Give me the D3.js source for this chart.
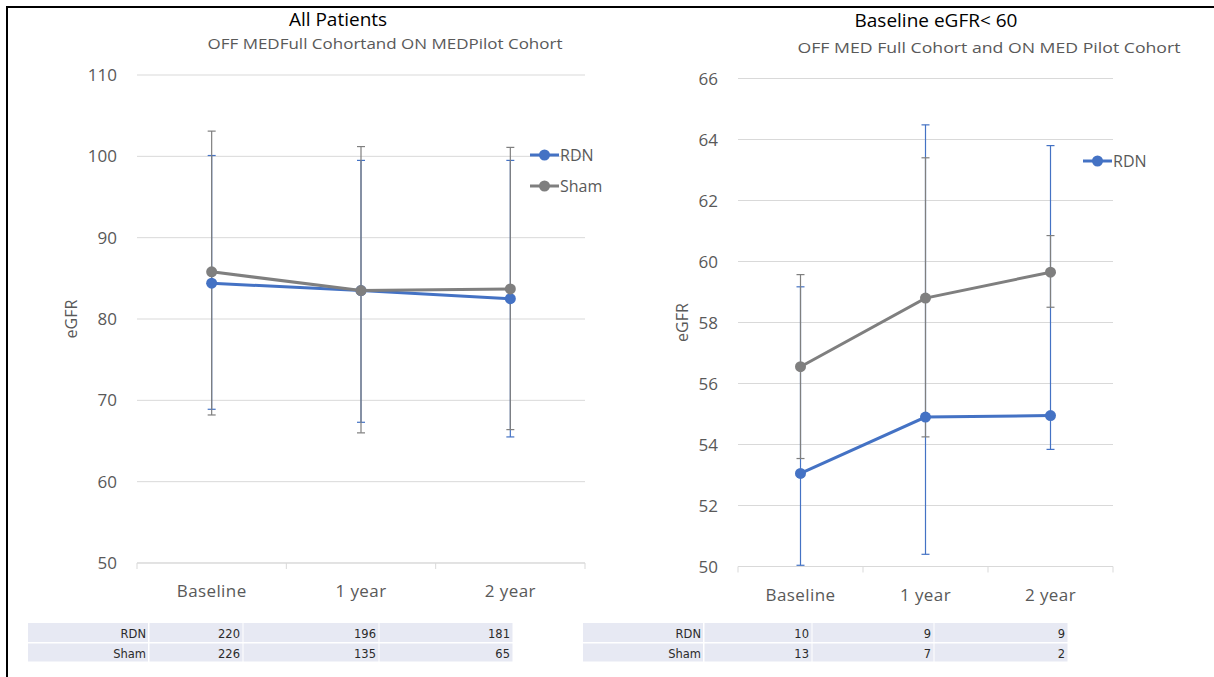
<!DOCTYPE html>
<html>
<head>
<meta charset="utf-8">
<script src="https://cdnjs.cloudflare.com/ajax/libs/d3/7.8.5/d3.min.js"></script>
<style>
  body { margin: 0; background: #fff; }
  text { font-family: "Open Sans", sans-serif; }
</style>
</head>
<body>
<div class="container"></div>
<script>
var w = 1214;
var h = 677;

// data
var categories = ["Baseline", "1 year", "2 year"];
var seriesNames = ["RDN", "Sham"];

// left chart: all patients
var allRdn = [84.4, 83.5, 82.5];
var allRdnHi = [100.1, 99.5, 99.5];
var allRdnLo = [68.9, 67.3, 65.5];
var allSham = [85.8, 83.5, 83.7];
var allShamHi = [103.1, 101.2, 101.1];
var allShamLo = [68.2, 66.0, 66.4];
var allTicks = [50, 60, 70, 80, 90, 100, 110];
var allN = [[220, 196, 181], [226, 135, 65]];

// right chart: baseline eGFR < 60
var lowRdn = [53.05, 54.9, 54.95];
var lowRdnHi = [59.17, 64.48, 63.8];
var lowRdnLo = [50.04, 50.4, 53.84];
var lowSham = [56.55, 58.8, 59.65];
var lowShamHi = [59.57, 63.4, 60.85];
var lowShamLo = [53.54, 54.25, 58.5];
var lowTicks = [50, 52, 54, 56, 58, 60, 62, 64, 66];
var lowN = [[10, 9, 9], [13, 7, 2]];

var blue = "#4472C4";
var grey = "#7F7F7F";
var textGrey = "#595959";

var svg = d3.select('.container')
  .append('svg')
  .attr('width', w)
  .attr('height', h);

// frame
svg.append('rect')
  .attr('x', 7).attr('y', 7)
  .attr('width', w + 20).attr('height', h + 20)
  .style('fill', 'none')
  .style('stroke', '#000')
  .style('stroke-width', 2);

function drawChart(opt) {
  var g = svg.append('g');
  var x = d3.scaleBand().domain(categories).range([opt.x0, opt.x1]);
  var y = d3.scaleLinear().domain(opt.domain).range([opt.y0, opt.y1]);

  // gridlines
  g.selectAll('.grid')
    .data(opt.ticks)
    .enter()
    .append('line')
    .attr('x1', opt.x0).attr('x2', opt.x1)
    .attr('y1', d => y(d)).attr('y2', d => y(d))
    .style('stroke', '#d9d9d9')
    .style('stroke-width', 1);

  // y tick labels
  g.selectAll('.ylab')
    .data(opt.ticks)
    .enter()
    .append('text')
    .attr('x', opt.x0 - 20)
    .attr('y', d => y(d) + 6)
    .attr('text-anchor', 'end')
    .style('font-size', '17px')
    .style('fill', textGrey)
    .text(d => d);

  // x axis
  var xAxis = d3.axisBottom(x).tickSize(0).tickPadding(22);
  var ax = g.append('g')
    .attr('transform', 'translate(0,' + opt.y0 + ')')
    .call(xAxis);
  ax.select('.domain').remove();
  ax.selectAll('text')
    .style('font-family', '"Open Sans", sans-serif')
    .style('font-size', '17px')
    .style('letter-spacing', '0.4px')
    .style('fill', textGrey);
  g.append('line')
    .attr('x1', opt.x0).attr('x2', opt.x1)
    .attr('y1', opt.y0).attr('y2', opt.y0)
    .style('stroke', '#d9d9d9');
  var edges = categories.map(c => x(c)).concat([x(categories[2]) + x.bandwidth()]);
  g.selectAll('.xtick')
    .data(edges)
    .enter()
    .append('line')
    .attr('x1', d => d).attr('x2', d => d)
    .attr('y1', opt.y0).attr('y2', opt.y0 + 6)
    .style('stroke', '#d9d9d9');

  // y axis label
  g.append('text')
    .attr('transform', 'translate(' + opt.labelX + ',' + ((opt.y0 + opt.y1) / 2) + ') rotate(-90)')
    .attr('text-anchor', 'middle')
    .style('font-size', '16px')
    .style('fill', textGrey)
    .text('eGFR');

  // titles
  g.append('text')
    .attr('x', opt.titleX).attr('y', opt.titleY)
    .attr('text-anchor', 'middle')
    .style('font-size', '19px')
    .style('fill', '#000')
    .text(opt.title);
  g.append('text')
    .attr('x', opt.subX).attr('y', opt.subY)
    .attr('text-anchor', 'middle')
    .attr('textLength', opt.subLen)
    .attr('lengthAdjust', 'spacingAndGlyphs')
    .style('font-size', '15px')
    .style('fill', textGrey)
    .text(opt.subtitle);

  var cx = d => x(d) + x.bandwidth() / 2;
  var clip = v => Math.max(opt.domain[0], Math.min(opt.domain[1], v));

  var series = [
    { vals: opt.rdn, hi: opt.rdnHi, lo: opt.rdnLo, color: blue },
    { vals: opt.sham, hi: opt.shamHi, lo: opt.shamLo, color: grey }
  ];

  // error bars
  series.forEach(function(s) {
    var eg = g.append('g');
    categories.forEach(function(c, i) {
      var yh = y(clip(s.hi[i]));
      var yl = y(clip(s.lo[i]));
      eg.append('line')
        .attr('x1', cx(c)).attr('x2', cx(c))
        .attr('y1', yh).attr('y2', yl)
        .style('stroke', s.color).style('stroke-width', 1.2);
      [yh, yl].forEach(function(yy) {
        eg.append('line')
          .attr('x1', cx(c) - 4).attr('x2', cx(c) + 4)
          .attr('y1', yy).attr('y2', yy)
          .style('stroke', s.color).style('stroke-width', 1.2);
      });
    });
  });

  // lines and markers
  var line = d3.line()
    .x((d, i) => cx(categories[i]))
    .y(d => y(d));
  series.forEach(function(s) {
    g.append('path')
      .datum(s.vals)
      .attr('d', line)
      .style('fill', 'none')
      .style('stroke', s.color)
      .style('stroke-width', 3);
    g.selectAll(null)
      .data(s.vals)
      .enter()
      .append('circle')
      .attr('cx', (d, i) => cx(categories[i]))
      .attr('cy', d => y(d))
      .attr('r', 5.5)
      .style('fill', s.color);
  });

  // legend
  opt.legend.forEach(function(name, i) {
    var ly = opt.legY + i * 31;
    var col = i === 0 ? blue : grey;
    g.append('line')
      .attr('x1', opt.legX).attr('x2', opt.legX + 29)
      .attr('y1', ly).attr('y2', ly)
      .style('stroke', col).style('stroke-width', 3);
    g.append('circle')
      .attr('cx', opt.legX + 14.5).attr('cy', ly).attr('r', 5.5)
      .style('fill', col);
    g.append('text')
      .attr('x', opt.legX + 30).attr('y', ly + 6)
      .style('font-size', '16px')
      .style('fill', textGrey)
      .text(name);
  });

  // table of patient numbers
  var cols = opt.tableCols;
  var rows = [623, 643, 662];
  seriesNames.forEach(function(name, r) {
    var cells = [name].concat(opt.counts[r]);
    cells.forEach(function(v, k) {
      g.append('rect')
        .attr('x', cols[k] + (k ? 0.5 : 0)).attr('y', rows[r] + (r ? 0.5 : 0))
        .attr('width', cols[k + 1] - cols[k] - 1)
        .attr('height', rows[r + 1] - rows[r] - 1)
        .style('fill', '#e7e9f3');
      g.append('text')
        .attr('x', cols[k + 1] - 3)
        .attr('y', rows[r] + 15)
        .attr('text-anchor', 'end')
        .style('font-family', '"DejaVu Sans", sans-serif')
        .style('font-size', '11.5px')
        .style('fill', '#2b2b2b')
        .text(v);
    });
  });
}

drawChart({
  x0: 137, x1: 585, y0: 563, y1: 75, domain: [50, 110], ticks: allTicks,
  labelX: 77, title: "All Patients", titleX: 338, titleY: 26,
  subtitle: "OFF MEDFull Cohortand ON MEDPilot Cohort", subX: 385, subY: 49, subLen: 355,
  rdn: allRdn, rdnHi: allRdnHi, rdnLo: allRdnLo,
  sham: allSham, shamHi: allShamHi, shamLo: allShamLo,
  legend: ["RDN", "Sham"], legX: 530, legY: 155,
  tableCols: [28, 149, 243, 379, 513], counts: allN
});

drawChart({
  x0: 738, x1: 1113, y0: 566.5, y1: 78.5, domain: [50, 66], ticks: lowTicks,
  labelX: 688, title: "Baseline eGFR< 60", titleX: 936, titleY: 27,
  subtitle: "OFF MED Full Cohort and ON MED Pilot Cohort", subX: 989, subY: 53, subLen: 383,
  rdn: lowRdn, rdnHi: lowRdnHi, rdnLo: lowRdnLo,
  sham: lowSham, shamHi: lowShamHi, shamLo: lowShamLo,
  legend: ["RDN"], legX: 1083, legY: 161,
  tableCols: [583, 704, 812, 934, 1068], counts: lowN
});
</script>
</body>
</html>
